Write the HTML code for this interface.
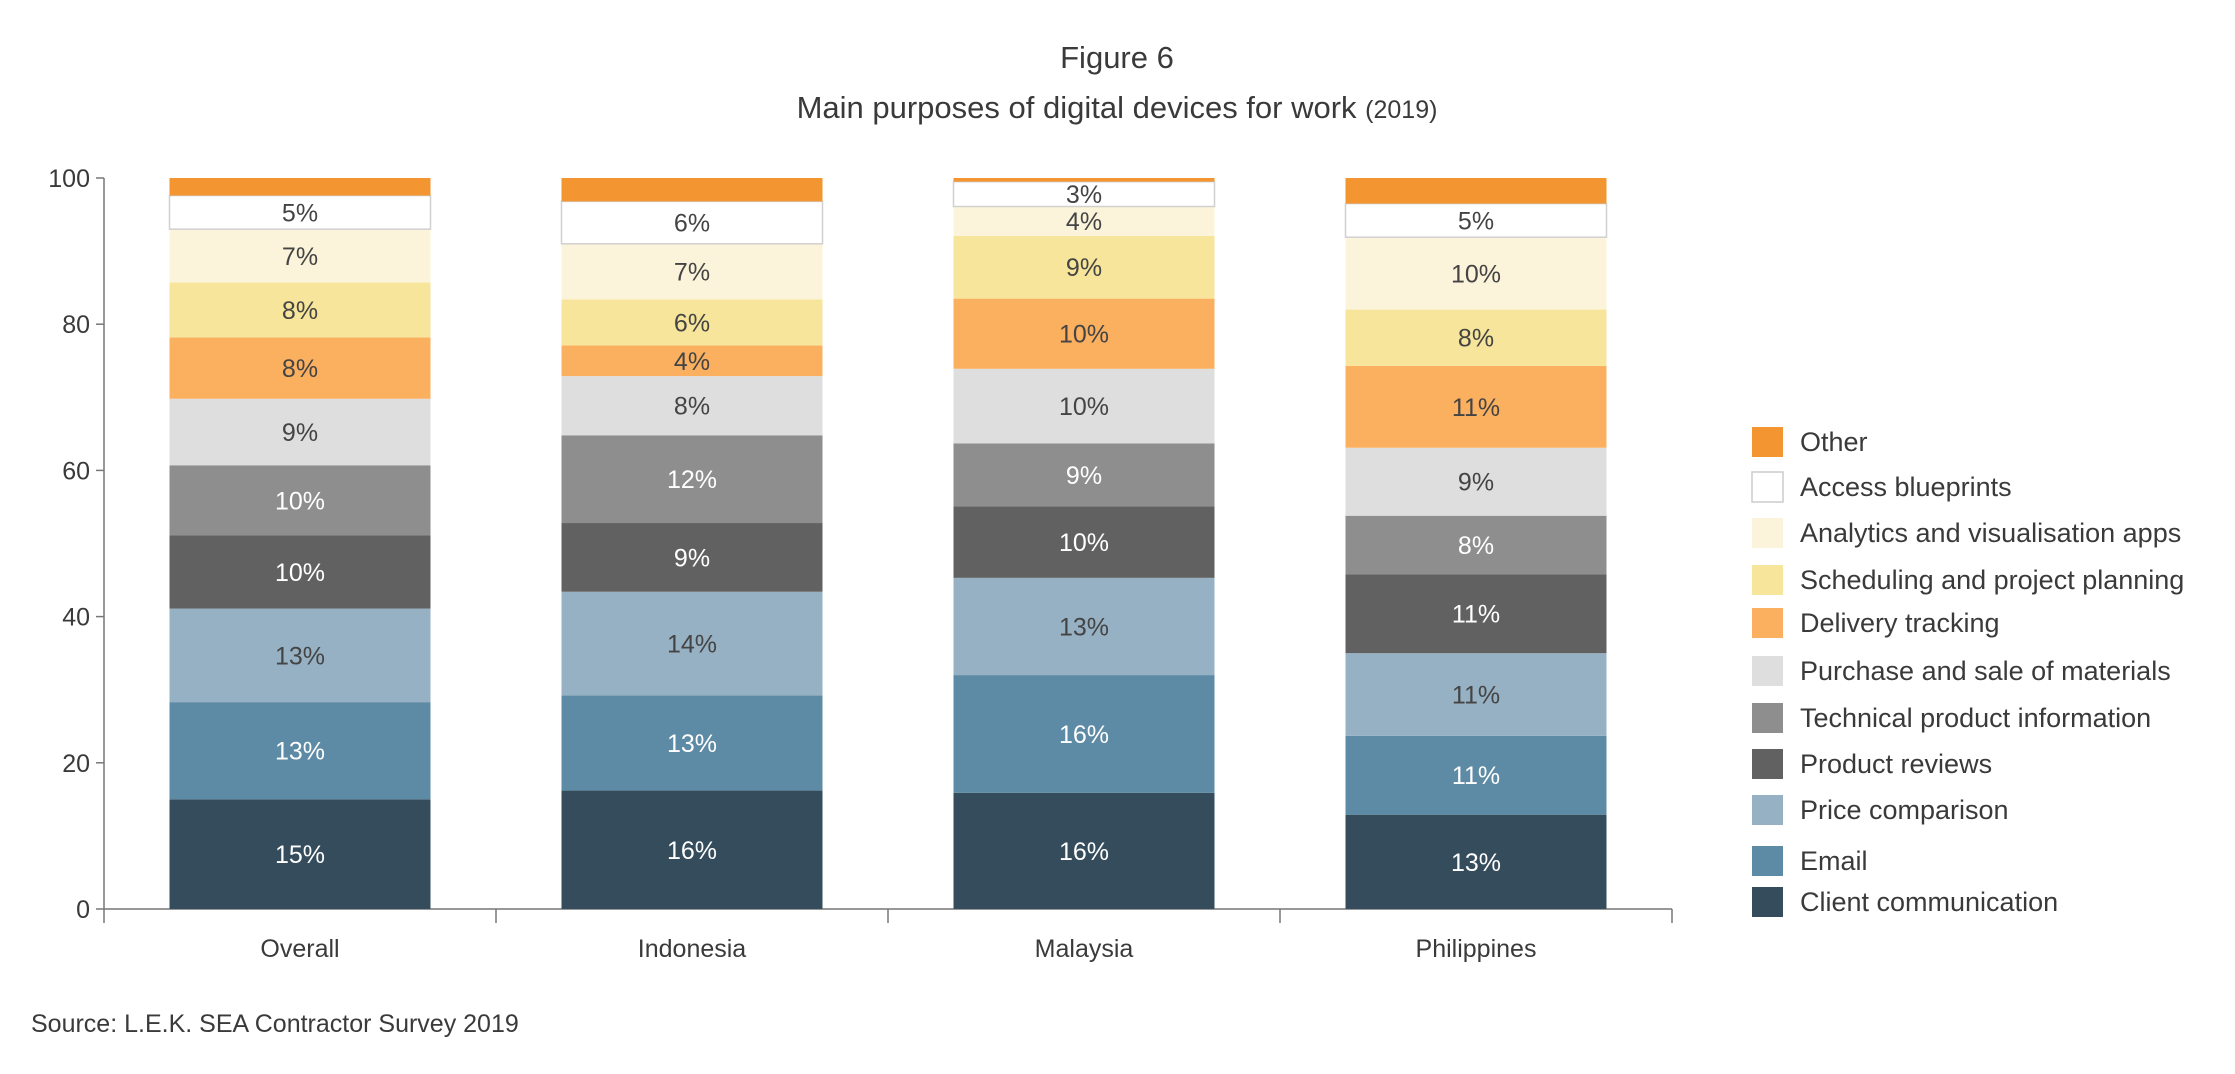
<!DOCTYPE html>
<html><head><meta charset="utf-8"><style>
html,body{margin:0;padding:0;background:#fff;}
svg{display:block;font-family:"Liberation Sans",sans-serif;}
</style></head><body>
<svg id="chart" width="2235" height="1074" viewBox="0 0 2235 1074">
<text x="1117" y="68" text-anchor="middle" font-size="31" fill="#3a3a3a">Figure 6</text>
<text x="1117" y="118" text-anchor="middle" font-size="31" fill="#3a3a3a">Main purposes of digital devices for work <tspan font-size="25">(2019)</tspan></text>
<g id="axes"></g><g id="bars"></g><g id="legend"></g>
<text x="31" y="1032" font-size="25" fill="#3a3a3a">Source: L.E.K. SEA Contractor Survey 2019</text>
</svg>
<script>
const categories = ["Overall","Indonesia","Malaysia","Philippines"];
const seriesNames = ["Client communication","Email","Price comparison","Product reviews","Technical product information","Purchase and sale of materials","Delivery tracking","Scheduling and project planning","Analytics and visualisation apps","Access blueprints","Other"];
const overallValues = [15,13.3,12.8,10,9.6,9.1,8.4,7.5,7.3,4.6,2.4];
const indonesiaValues = [16.2,13,14.2,9.4,12,8.1,4.2,6.3,7.6,5.8,3.2];
const malaysiaValues = [15.9,16.1,13.3,9.8,8.6,10.2,9.6,8.6,4,3.4,0.5];
const philippinesValues = [12.9,10.8,11.3,10.8,8,9.3,11.2,7.7,9.9,4.6,3.5];
const overallLabels = ["15%","13%","13%","10%","10%","9%","8%","8%","7%","5%",""];
const indonesiaLabels = ["16%","13%","14%","9%","12%","8%","4%","6%","7%","6%",""];
const malaysiaLabels = ["16%","16%","13%","10%","9%","10%","10%","9%","4%","3%",""];
const philippinesLabels = ["13%","11%","11%","11%","8%","9%","11%","8%","10%","5%",""];
const yTicks = [0,20,40,60,80,100];

const allValues=[overallValues,indonesiaValues,malaysiaValues,philippinesValues];
const allLabels=[overallLabels,indonesiaLabels,malaysiaLabels,philippinesLabels];
const colors=["#344C5C","#5D8AA5","#97B1C4","#616161","#8E8E8E","#DEDEDE","#FBB05F","#F7E59B","#FCF4DA","#FFFFFF","#F39530"];
const labelColors=["#fff","#fff","#444","#fff","#fff","#444","#444","#444","#444","#444","#444"];
const NS="http://www.w3.org/2000/svg";
const y0=909,y100=178,axL=104,axR=1672,barW=261;
const yScale=v=>y0-(y0-y100)*v/100;
const band=(axR-axL)/categories.length;
const xCenter=i=>axL+band*(i+0.5);
function mk(tag,attrs,parent){const e=document.createElementNS(NS,tag);for(const k in attrs)e.setAttribute(k,attrs[k]);parent.appendChild(e);return e;}
const axes=document.getElementById('axes'),bars=document.getElementById('bars'),legend=document.getElementById('legend');
let l=mk('line',{x1:axL,y1:y100,x2:axL,y2:y0,stroke:'#777','stroke-width':1.5},axes);


l=mk('line',{x1:axL,y1:y0,x2:axR,y2:y0,stroke:'#777','stroke-width':1.5},axes);


yTicks.forEach(t=>{
 const y=yScale(t);
 const tk=mk('line',{x1:axL-8,y1:y,x2:axL,y2:y,stroke:'#777','stroke-width':1.5},axes);
 
 
 const tx=mk('text',{x:axL-14,y:y+9,'text-anchor':'end','font-size':25,fill:'#3a3a3a'},axes);
 tx.textContent=t;
 
 
});
for(let i=0;i<=categories.length;i++){
 const x=axL+band*i;
 const tk=mk('line',{x1:x,y1:y0,x2:x,y2:y0+14,stroke:'#777','stroke-width':1.5},axes);
 
 
}
categories.forEach((c,i)=>{
 const cx=xCenter(i);
 const tx=mk('text',{x:cx,y:957,'text-anchor':'middle','font-size':25,fill:'#3a3a3a'},axes);
 tx.textContent=c;
 
 
 let cum=0;
 allValues[i].forEach((v,s)=>{
  const yt=yScale(cum+v),yb=yScale(cum);
  const r=mk('rect',{x:cx-barW/2,y:yt,width:barW,height:yb-yt,fill:colors[s]},bars);
  if(s===9){r.setAttribute('stroke','#d0d0d0');r.setAttribute('stroke-width','1.5');}
  
  
  const lab=allLabels[i][s];
  if(lab){
   const t=mk('text',{x:cx,y:(yt+yb)/2+9,'text-anchor':'middle','font-size':25,fill:labelColors[s]},bars);
   t.textContent=lab;
   
   
  }
  cum+=v;
 });
});
const legY=[902,861,810,764,718,671,623,580,533,487,442];
seriesNames.forEach((n,s)=>{
 const y=legY[s];
 const r=mk('rect',{x:1752,y:y-15,width:31,height:30,fill:colors[s]},legend);
 if(s===9){r.setAttribute('stroke','#ccc');r.setAttribute('stroke-width','1.5');}
 
 
 const t=mk('text',{x:1800,y:y+9,'font-size':27,fill:'#3a3a3a'},legend);
 t.textContent=n;
 
 
});
</script>
</body></html>
